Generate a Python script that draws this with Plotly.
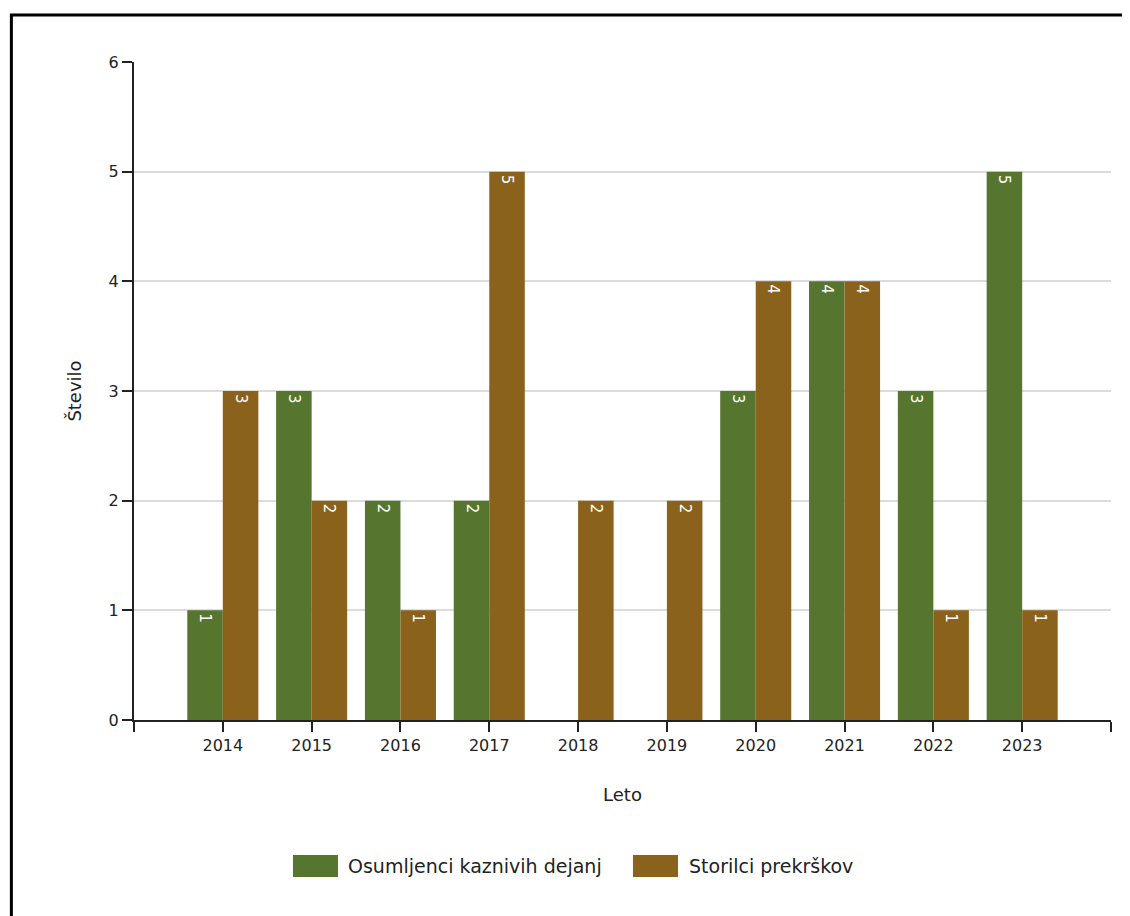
import plotly.graph_objects as go

years = [2014, 2015, 2016, 2017, 2018, 2019, 2020, 2021, 2022, 2023]
osumljenci = [1, 3, 2, 2, None, None, 3, 4, 3, 5]
storilci = [3, 2, 1, 5, 2, 2, 4, 4, 1, 1]
series_names = ["Osumljenci kaznivih dejanj", "Storilci prekrškov"]

GREEN = "#56762F"
BROWN = "#8A621C"
FONT = "DejaVu Sans"

fig = go.Figure()
for name, vals, col in [(series_names[0], osumljenci, GREEN), (series_names[1], storilci, BROWN)]:
    fig.add_trace(go.Bar(
        x=years, y=vals, name=name,
        marker=dict(color=col, line=dict(width=0)),
        text=["<br>" + str(v) if v else "" for v in vals],
        textposition="inside", insidetextanchor="end", textangle=90,
        textfont=dict(color="white", size=15, family=FONT),
        showlegend=False,
    ))

tickvals = list(range(2013, 2025))
ticktext = [str(t) if t in years else "" for t in tickvals]

# custom legend with wide swatches (paper coords)
shapes = [dict(type="rect", xref="paper", yref="paper",
               x0=-0.1255, x1=1.2, y0=-0.5, y1=1.0714,
               line=dict(color="black", width=3), fillcolor="rgba(0,0,0,0)")]
annotations = []
for (x0, x1, tx), name, col in zip([(0.1627, 0.2088, 0.2170), (0.5107, 0.5568, 0.5660)],
                                   series_names, [GREEN, BROWN]):
    shapes.append(dict(type="rect", xref="paper", yref="paper",
                       x0=x0, x1=x1, y0=-0.2386, y1=-0.2052,
                       line=dict(width=0), fillcolor=col))
    annotations.append(dict(xref="paper", yref="paper", x=tx, y=-0.222,
                            text=name, showarrow=False, xanchor="left", yanchor="middle",
                            font=dict(size=19, family=FONT, color="#222")))

fig.update_layout(
    width=1130, height=916,
    margin=dict(l=126, r=27, t=54, b=204),
    plot_bgcolor="white", paper_bgcolor="white",
    font=dict(family=FONT, size=16, color="#222"),
    barmode="group", bargap=0.2, bargroupgap=0,
    xaxis=dict(
        range=[2013, 2024], tickvals=tickvals, ticktext=ticktext,
        showline=True, linecolor="#222", linewidth=2,
        ticks="outside", ticklen=10, tickwidth=2, tickcolor="#222",
        showgrid=False, zeroline=False, tickfont=dict(size=16),
        title=dict(text="Leto", font=dict(size=18), standoff=34),
    ),
    yaxis=dict(
        range=[0, 6], dtick=1,
        showline=True, linecolor="#222", linewidth=2,
        ticks="outside", ticklen=10, tickwidth=2, tickcolor="#222",
        showgrid=True, gridcolor="#dcdcdc", gridwidth=1.5, zeroline=False,
        tickfont=dict(size=16),
        title=dict(text="Število", font=dict(size=18), standoff=22),
    ),
    shapes=shapes,
    annotations=annotations,
)

fig.write_html("out.html")
